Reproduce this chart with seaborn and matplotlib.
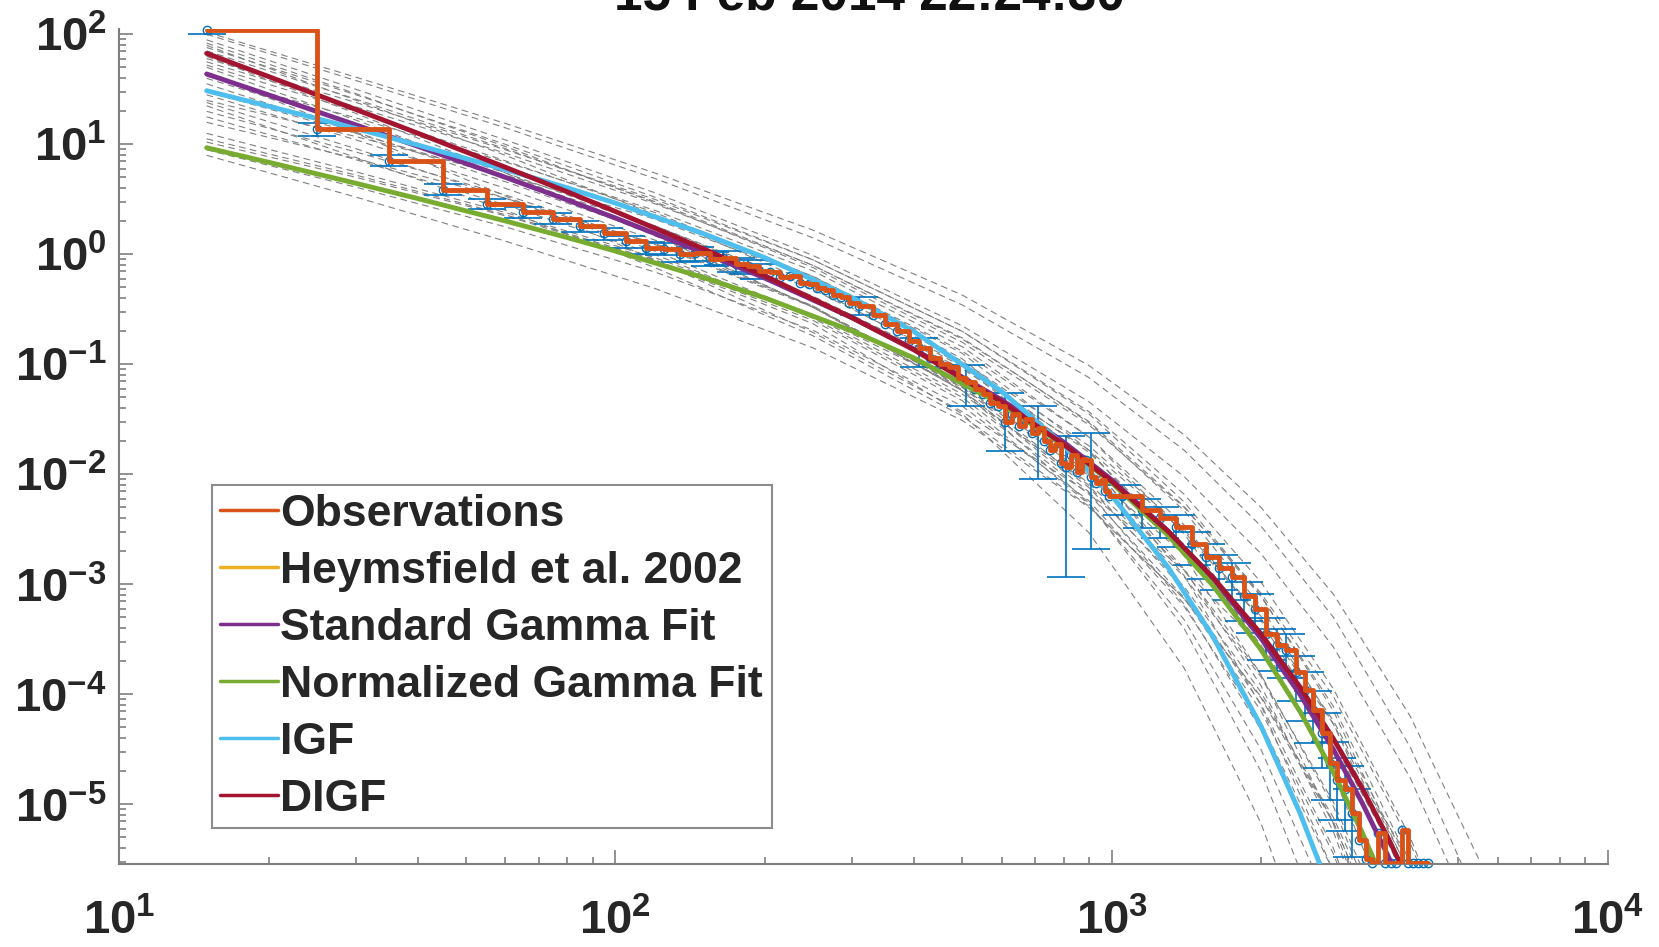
import numpy as np
import pandas as pd
import matplotlib
matplotlib.use('Agg')
import matplotlib.pyplot as plt
from matplotlib.lines import Line2D
from matplotlib.ticker import LogLocator, NullFormatter
import seaborn as sns

# ---- fitted size distributions (D in micron) ----
fit_d = [15, 20, 30, 40, 60, 80, 100, 150, 200, 300, 400, 600, 800, 1000,
         1300, 1600, 2000, 2400, 2800, 3200, 3600, 4000]
digf_n = [67.1, 41.3, 20.7, 12.6, 6.19, 3.70, 2.45, 1.13, 0.637, 0.265, 0.135,
          0.0457, 0.0188, 0.00865, 0.00303, 0.00116, 3.55e-4, 1.16e-4, 3.94e-5,
          1.40e-5, 5.06e-6, 1.87e-6]
sgf_n = [43.6, 28.1, 15.0, 9.58, 5.01, 3.12, 2.14, 1.04, 0.608, 0.265, 0.137,
         0.0476, 0.0197, 0.00893, 0.00305, 0.00113, 3.24e-4, 9.9e-5, 3.15e-5,
         1.03e-5, 3.47e-6, 1.19e-6]
ngf_n = [9.31, 6.87, 4.42, 3.21, 2.01, 1.42, 1.07, 0.618, 0.402, 0.201, 0.114,
         0.0432, 0.0185, 0.00841, 0.00279, 9.77e-4, 2.55e-4, 6.93e-5, 1.95e-5,
         5.55e-6, 1.61e-6, 4.9e-7]
igf_n = [30.7, 22.2, 13.9, 9.84, 5.90, 4.02, 2.92, 1.55, 0.933, 0.404, 0.198,
         0.0569, 0.0185, 0.00644, 0.00143, 3.36e-4, 5.15e-5, 8.24e-6, 1.36e-6]

# ---- ensemble of fits (grey dashed), log10 N on a coarse D grid ----
gray_d = [15, 30, 60, 120, 250, 500, 900, 1400, 2000, 2800, 4000, 5500]
gray_log10 = [
    [2.02, 1.61, 1.19, 0.74, 0.22, -0.37, -1.01, -1.64, -2.30, -3.09, -4.20, -5.50],
    [1.95, 1.50, 1.04, 0.56, -0.01, -0.65, -1.34, -2.02, -2.72, -3.57, -4.76, -6.16],
    [1.90, 1.40, 0.90, 0.36, -0.27, -0.97, -1.74, -2.50, -3.29, -4.24, -5.57, -7.14],
    [1.85, 1.41, 0.96, 0.48, -0.10, -0.77, -1.52, -2.29, -3.11, -4.11, -5.53, -7.23],
    [1.80, 1.28, 0.74, 0.18, -0.48, -1.20, -1.98, -2.73, -3.50, -4.43, -5.71, -7.22],
    [1.75, 1.34, 0.92, 0.46, -0.10, -0.76, -1.53, -2.33, -3.20, -4.27, -5.79, -7.62],
    [1.70, 1.22, 0.71, 0.17, -0.48, -1.24, -2.12, -3.02, -3.98, -5.16, -6.84, -8.86],
    [1.62, 1.24, 0.84, 0.40, -0.15, -0.84, -1.66, -2.54, -3.51, -4.73, -6.47, -8.59],
    [1.55, 1.11, 0.66, 0.19, -0.38, -1.04, -1.78, -2.52, -3.31, -4.27, -5.63, -7.25],
    [1.50, 1.15, 0.77, 0.35, -0.20, -0.90, -1.78, -2.74, -3.82, -5.18, -7.15, -9.55],
    [1.45, 1.04, 0.60, 0.13, -0.47, -1.21, -2.10, -3.05, -4.09, -5.40, -7.28, -9.56],
    [1.40, 1.07, 0.72, 0.32, -0.22, -0.95, -1.88, -2.92, -4.10, -5.61, -7.80, -10.49],
    [1.35, 0.88, 0.40, -0.12, -0.74, -1.47, -2.29, -3.13, -4.02, -5.12, -6.67, -8.53],
    [1.30, 0.93, 0.54, 0.09, -0.48, -1.23, -2.16, -3.18, -4.32, -5.77, -7.87, -10.43],
    [1.20, 0.87, 0.51, 0.10, -0.47, -1.24, -2.26, -3.40, -4.70, -6.36, -9.00, -12.00],
    [1.10, 0.75, 0.38, -0.03, -0.55, -1.21, -2.01, -2.87, -3.82, -5.02, -6.75, -8.85],
    [1.02, 0.70, 0.35, -0.06, -0.63, -1.45, -2.53, -3.76, -5.17, -6.99, -9.65, -12.90],
    [0.95, 0.61, 0.25, -0.16, -0.69, -1.38, -2.24, -3.20, -4.26, -5.61, -7.57, -9.97],
    [0.90, 0.52, 0.12, -0.31, -0.85, -1.51, -2.30, -3.13, -4.03, -5.17, -6.79, -8.76],
    [1.65, 1.10, 0.53, -0.05, -0.71, -1.43, -2.17, -2.87, -3.56, -4.39, -5.51, -6.80],
    [2.00, 1.58, 1.15, 0.69, 0.15, -0.46, -1.12, -1.78, -2.47, -3.30, -4.48, -5.90],
    [1.88, 1.45, 1.00, 0.52, -0.05, -0.70, -1.43, -2.18, -2.98, -3.95, -5.30, -6.90],
    [1.78, 1.38, 0.95, 0.50, -0.05, -0.70, -1.45, -2.25, -3.10, -4.15, -5.65, -7.40],
    [1.60, 1.18, 0.74, 0.26, -0.32, -1.00, -1.80, -2.64, -3.55, -4.70, -6.30, -8.30],
    [1.48, 1.10, 0.70, 0.26, -0.30, -1.02, -1.90, -2.86, -3.92, -5.25, -7.15, -9.50],
    [1.25, 0.86, 0.45, 0.00, -0.58, -1.30, -2.18, -3.12, -4.15, -5.45, -7.30, -9.60],
    [1.05, 0.72, 0.36, -0.05, -0.60, -1.33, -2.27, -3.32, -4.50, -6.00, -8.20, -10.90],
    [1.92, 1.46, 0.98, 0.47, -0.12, -0.80, -1.55, -2.30, -3.08, -4.02, -5.35, -6.95],
    [1.72, 1.30, 0.85, 0.38, -0.20, -0.88, -1.66, -2.46, -3.33, -4.40, -5.95, -7.90],
    [1.38, 0.96, 0.51, 0.03, -0.56, -1.27, -2.08, -2.93, -3.84, -4.98, -6.60, -8.60],
]

# ---- observations (bin start, log10 N) ----
obs_d = [15, 25, 35, 45, 55, 65, 75, 85, 95, 105, 115, 125, 135, 145, 155, 165,
         175, 185, 195, 205, 215, 225, 235, 245, 255, 265, 275, 285, 295,
         310, 330, 350, 370, 390, 410, 430, 450, 470, 490, 510, 530, 550, 570,
         590, 610, 630, 650, 670, 690, 710, 730, 750, 770, 790, 810, 830, 850,
         870, 890, 910, 930, 950, 970, 990,
         1050, 1150, 1250, 1350, 1450, 1550, 1650, 1750, 1850, 1950, 2050, 2150,
         2250, 2350, 2450, 2550, 2650, 2750, 2850, 2950, 3050, 3150, 3250, 3350,
         3450, 3550, 3650, 3750, 3850, 3950, 4050, 4150, 4250, 4350]
obs_log10 = [2.04, 1.14, 0.85, 0.585, 0.457, 0.382, 0.322, 0.255, 0.19, 0.12,
             0.06, 0.05, 0.0, 0.01, -0.04, -0.03, -0.09, -0.11, -0.15, -0.16,
             -0.21, -0.20, -0.26, -0.27, -0.31, -0.32, -0.37, -0.39, -0.44,
             -0.47, -0.55, -0.63, -0.70, -0.79, -0.85, -0.94, -1.00, -1.02, -1.12,
             -1.16, -1.22, -1.27, -1.35, -1.38, -1.52, -1.45, -1.56, -1.50, -1.62,
             -1.58, -1.70, -1.78, -1.72, -1.90, -1.93, -1.82, -1.98, -1.86, -1.87,
             -2.02, -2.08, -2.05, -2.15, -2.20,
             -2.20, -2.32, -2.40, -2.48, -2.63, -2.75, -2.85, -2.93, -3.11, -3.22,
             -3.45, -3.55, -3.60, -3.80, -3.96, -4.14, -4.35, -4.62, -4.78, -4.86,
             -5.08, -5.32, -5.50, -5.53, -5.26, -5.53, -5.53, -5.53, -5.23, -5.53,
             -5.53, -5.53, -5.53, -5.53]

# error bars on a subset of bins (log10 half-ranges up / down)
err_d = [15, 25, 35, 45, 55, 65, 75, 85, 95, 105, 115, 125, 135, 145, 155, 165,
         175, 185, 195, 310, 410, 510, 610, 710, 810, 910,
         1050, 1150, 1250, 1350, 1450, 1550, 1650, 1750, 1850, 1950, 2050, 2150,
         2250, 2350, 2450, 2550, 2650, 2750, 2850, 2950, 3050]
err_up = [0.04, 0.055, 0.05, 0.05, 0.045, 0.05, 0.05, 0.05, 0.05, 0.05, 0.05,
          0.05, 0.06, 0.06, 0.06, 0.06, 0.06, 0.06, 0.06,
          0.08, 0.09, 0.15, 0.26, 0.20, 0.28, 0.40,
          0.10, 0.10, 0.10, 0.11, 0.11, 0.12, 0.12, 0.12, 0.13, 0.13, 0.14, 0.14,
          0.15, 0.15, 0.16, 0.17, 0.18, 0.19, 0.20, 0.21, 0.22]
err_dn = [0.04, 0.067, 0.05, 0.05, 0.045, 0.05, 0.05, 0.05, 0.06, 0.06, 0.06,
          0.06, 0.07, 0.07, 0.07, 0.07, 0.07, 0.07, 0.07,
          0.08, 0.17, 0.22, 0.27, 0.46, 1.00, 0.66,
          0.17, 0.17, 0.18, 0.18, 0.19, 0.20, 0.20, 0.21, 0.22, 0.22, 0.24, 0.24,
          0.25, 0.26, 0.28, 0.30, 0.32, 0.34, 0.36, 0.38, 0.40]

labels = ['Observations', 'Heymsfield et al. 2002', 'Standard Gamma Fit',
          'Normalized Gamma Fit', 'IGF', 'DIGF']
colors = ['#D95319', '#EDB120', '#7E2F8E', '#77AC30', '#4DBEEE', '#A2142F']
title = '15 Feb 2014 22:24:30'

sns.set_theme(style='white')
plt.rcParams['font.family'] = ['Liberation Sans', 'DejaVu Sans']
plt.rcParams['axes.unicode_minus'] = False
plt.rcParams['lines.dashed_pattern'] = [6, 4]

fig = plt.figure(figsize=(16.59, 9.47), dpi=100)
ax = fig.add_axes([0.0719, 0.0873, 0.8972, 0.8817])
ax.set_xscale('log')
ax.set_yscale('log')

# grey ensemble
gray_df = pd.DataFrame({
    'D': np.tile(gray_d, len(gray_log10)),
    'N': 10.0 ** np.concatenate(gray_log10),
    'curve': np.repeat(np.arange(len(gray_log10)), len(gray_d)),
})
sns.lineplot(data=gray_df, x='D', y='N', units='curve', estimator=None,
             color='0.5', lw=0.8, linestyle='--', legend=False, ax=ax, zorder=1)

# observations with error bars
obs_n = 10.0 ** np.array(obs_log10)
lookup = dict(zip(obs_d, obs_n))
err_c = np.array([lookup[d] for d in err_d])
lo = err_c - err_c * 10.0 ** (-np.array(err_dn))
hi = err_c * 10.0 ** np.array(err_up) - err_c
ax.errorbar(err_d, err_c, yerr=[lo, hi], fmt='none', ecolor='#0072BD',
            elinewidth=1.2, capsize=14, capthick=1.2, zorder=2)
ax.plot(obs_d, obs_n, 'o', mfc='none', mec='#0072BD', ms=6, mew=1, zorder=2.5,
        clip_on=False)

# fits
sns.lineplot(x=fit_d, y=sgf_n, color=colors[2], lw=3.5, ax=ax, zorder=3)
sns.lineplot(x=fit_d, y=ngf_n, color=colors[3], lw=3.5, ax=ax, zorder=3)
sns.lineplot(x=fit_d[:len(igf_n)], y=igf_n, color=colors[4], lw=3.5, ax=ax, zorder=3)
sns.lineplot(x=fit_d, y=digf_n, color=colors[5], lw=3.5, ax=ax, zorder=3)

sns.lineplot(x=obs_d, y=obs_n, color=colors[0], lw=3.5, drawstyle='steps-post',
             ax=ax, zorder=4)

ax.set_xlim(10, 1e4)
ax.set_ylim(10 ** -5.545, 10 ** 2.045)
ax.set_xlabel('')
ax.set_ylabel('')

for s in ['top', 'right']:
    ax.spines[s].set_visible(False)
for s in ['left', 'bottom']:
    ax.spines[s].set_color('#7f7f7f')
    ax.spines[s].set_linewidth(1.5)

ax.xaxis.set_major_locator(LogLocator(base=10, numticks=10))
ax.yaxis.set_major_locator(LogLocator(base=10, numticks=12))
ax.xaxis.set_minor_locator(LogLocator(base=10, subs=np.arange(2, 10), numticks=12))
ax.yaxis.set_minor_locator(LogLocator(base=10, subs=np.arange(2, 10), numticks=12))
ax.xaxis.set_minor_formatter(NullFormatter())
ax.yaxis.set_minor_formatter(NullFormatter())
ax.tick_params(which='both', direction='in', color='#7f7f7f', width=1.2,
               bottom=True, left=True, top=False, right=False)
ax.tick_params(which='major', length=10)
ax.tick_params(which='minor', length=5)
ax.tick_params(axis='x', pad=25)
ax.tick_params(axis='y', pad=9)
for t in ax.get_xticklabels() + ax.get_yticklabels():
    t.set_fontsize(34)
    t.set_fontweight('bold')
    t.set_color('#262626')

handles = [Line2D([0], [0], color=c, lw=2.5) for c in colors]
leg = ax.legend(handles, labels, loc='lower left', bbox_to_anchor=(0.062, 0.043),
                borderaxespad=0, frameon=True, fancybox=False, framealpha=1,
                edgecolor='#8c8c8c', handlelength=1.3, handletextpad=0.05,
                labelspacing=0.36, borderpad=0.2,
                prop={'family': 'Liberation Sans', 'weight': 'bold', 'size': 32})
leg.get_frame().set_linewidth(1.5)

fig.text(0.5244, 1 - 9 / 947, title, ha='center', va='baseline',
         fontsize=37, fontweight='bold', color='#111111')

fig.savefig('out.png', dpi=100)
